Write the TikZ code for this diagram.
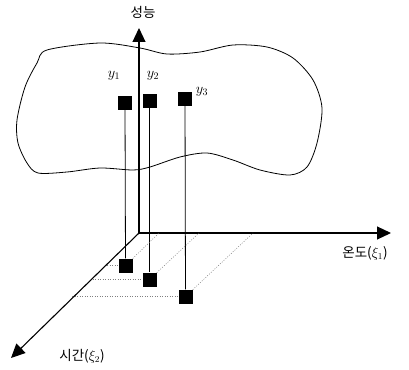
\documentclass[tikz,border=0pt]{standalone}
\usepackage{fontspec}
\newfontfamily\kr{Noto Sans CJK KR}
\usetikzlibrary{arrows.meta}
\begin{document}
\begin{tikzpicture}[x=1pt,y=-1pt,
  axis/.style={line width=1.1pt, -{Triangle[length=14pt,width=13pt]}},
  pt/.style={fill=black, inner sep=0pt, minimum size=14pt},
  proj/.style={line width=0.5pt, gray, dash pattern=on 1pt off 1.5pt},
  krlabel/.style={font=\kr\fontsize{13.5}{15}\selectfont},
  ylabel/.style={font=\fontsize{14}{16}\selectfont}]
\useasboundingbox (0,0) rectangle (409,369);
\draw[line width=0.8pt] plot[smooth cycle] coordinates {(47,50) (100,43) (140,48) (167,54) (200,52) (233,45) (267,47) (293,58) (313,80) (322,108) (317,143) (307,167) (290,175) (260,170) (233,160) (207,153) (180,157) (150,167) (133,170) (100,168) (67,172) (38,173) (27,163) (18,143) (17,120) (25,87) (37,63)};
\coordinate (O) at (139,233);
\coordinate (ytip) at (139,28);
\coordinate (xtip) at (391,233);
\coordinate (ttip) at (11,358);
\draw[axis] (O) -- (ytip);
\draw[axis] (O) -- (xtip);
\draw[axis] (O) -- (ttip);
\node[krlabel] (perf) at (143,12) {성능};
\node[krlabel] (temp) at (365,253) {온도($\xi_1$)};
\node[krlabel] (time) at (82,356) {시간($\xi_2$)};
\node[pt] (u1) at (125,103) {};
\node[pt] (u2) at (149.5,100.5) {};
\node[pt] (u3) at (185,98.5) {};
\node[pt] (l1) at (125.5,265.5) {};
\node[pt] (l2) at (149.5,279.5) {};
\node[pt] (l3) at (185.5,296.5) {};
\node[ylabel] (y1) at (114,76) {$y_1$};
\node[ylabel] (y2) at (153,76) {$y_2$};
\node[ylabel] (y3) at (202,92) {$y_3$};
\draw[line width=0.8pt] (u1) -- (l1);
\draw[line width=0.8pt] (u2) -- (l2);
\draw[line width=0.8pt] (u3) -- (l3);
\coordinate (t1) at (107,265.5);
\coordinate (t2) at (90,279.5);
\coordinate (t3) at (72,296.5);
\coordinate (x1) at (159,233);
\coordinate (x2) at (199,233);
\coordinate (x3) at (253,233);
\draw[proj] (t1) -- (l1);
\draw[proj] (t2) -- (l2);
\draw[proj] (t3) -- (l3);
\draw[proj] (l1) -- (x1);
\draw[proj] (l2) -- (x2);
\draw[proj] (l3) -- (x3);
\end{tikzpicture}
\end{document}
